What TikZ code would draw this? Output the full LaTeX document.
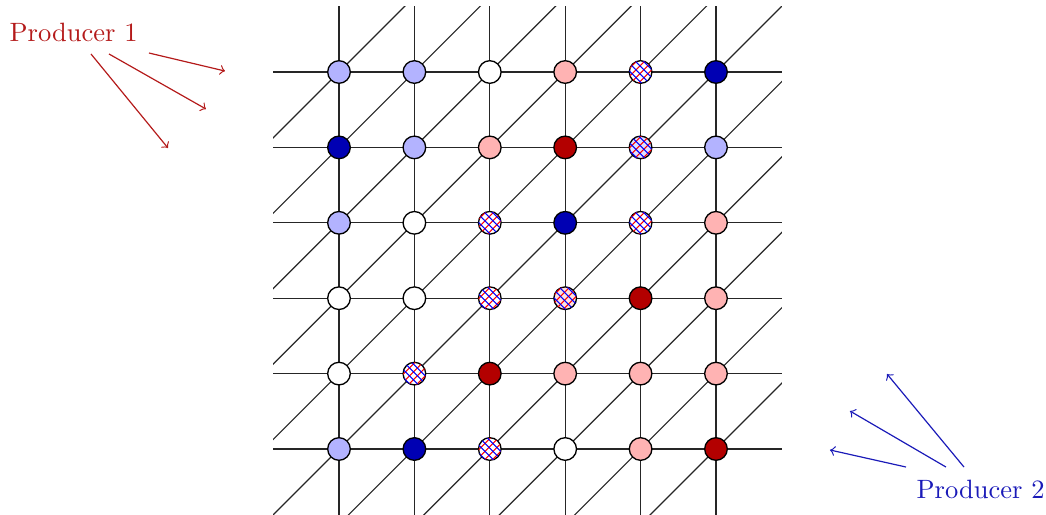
\documentclass[tikz,border=0pt]{standalone}
\usetikzlibrary{patterns}
\definecolor{lb}{HTML}{B3B3FF}
\definecolor{db}{HTML}{0000B3}
\definecolor{lr}{HTML}{FFB3B3}
\definecolor{dr}{HTML}{B30000}
\definecolor{pone}{HTML}{B41A1A}
\definecolor{ptwo}{HTML}{1A1AB8}
\tikzset{
  site/.style={circle, draw=black, line width=0.5pt, minimum size=0.3cm, inner sep=0pt},
  W/.style={site, fill=white},
  LB/.style={site, fill=lb},
  DB/.style={site, fill=db},
  LR/.style={site, fill=lr},
  DR/.style={site, fill=dr},
  hatch/.style={site, fill=white,
    postaction={pattern=north east lines, pattern color=red},
    postaction={pattern=north west lines, pattern color=blue}},
  HB/.style={hatch, fill=blue!12},
  HR/.style={hatch, fill=red!12},
  HW/.style={hatch},
  gridline/.style={line width=0.45pt, black!85},
  prodarrow/.style={->, line width=0.45pt},
}
\begin{document}
\begin{tikzpicture}
\useasboundingbox (-3.496,0.125) rectangle (10.377,6.955);
% grid
\foreach \i in {1,...,6} {
  \draw[gridline] (\i,0.125) -- (\i,6.875);
  \draw[gridline] (0.125,\i) -- (6.875,\i);
}
% diagonals
\begin{scope}
  \clip (0.125,0.125) rectangle (6.875,6.875);
  \foreach \k in {-5,...,5} {
    \draw[gridline] ({\k-1},-1) -- ({\k+8},8);
  }
\end{scope}
% sites: row index r from top (r=1 at y=6)
\foreach \r/\row in {
  1/{LB,LB,W,LR,HW,DB},
  2/{DB,LB,LR,DR,HB,LB},
  3/{LB,W,HW,DB,HW,LR},
  4/{W,W,HW,HR,DR,LR},
  5/{W,HW,DR,LR,LR,LR},
  6/{LB,DB,HW,W,LR,DR}} {
  \foreach \s [count=\c] in \row {
    \node[\s] (n-\r-\c) at (\c,{7-\r}) {};
  }
}
% producers
\node[text=pone, inner sep=0pt] (p1) at (-2.52,6.52) {Producer 1};
\node[text=ptwo, inner sep=0pt] (p2) at (9.51,0.47) {Producer 2};
\coordinate (a1s) at (-1.520,6.252); \coordinate (a1e) at (-0.512,6.013);
\coordinate (a2s) at (-2.050,6.239); \coordinate (a2e) at (-0.764,5.509);
\coordinate (a3s) at (-2.289,6.239); \coordinate (a3e) at (-1.268,4.992);
\coordinate (b1s) at (8.520,0.761); \coordinate (b1e) at (7.512,0.987);
\coordinate (b2s) at (9.050,0.761); \coordinate (b2e) at (7.777,1.504);
\coordinate (b3s) at (9.289,0.761); \coordinate (b3e) at (8.268,1.995);
\draw[prodarrow, pone] (a1s) -- (a1e);
\draw[prodarrow, pone] (a2s) -- (a2e);
\draw[prodarrow, pone] (a3s) -- (a3e);
\draw[prodarrow, ptwo] (b1s) -- (b1e);
\draw[prodarrow, ptwo] (b2s) -- (b2e);
\draw[prodarrow, ptwo] (b3s) -- (b3e);
\end{tikzpicture}
\end{document}
